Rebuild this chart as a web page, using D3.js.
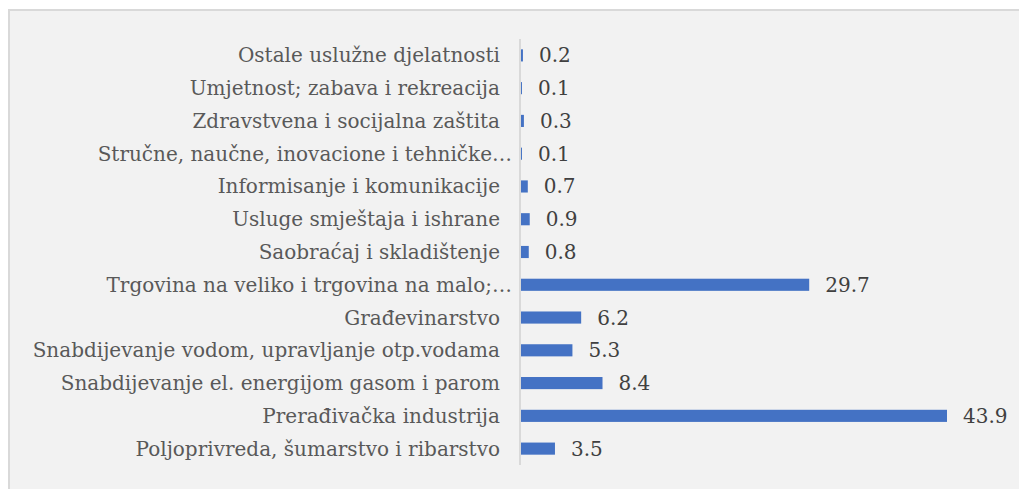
<!DOCTYPE html>
<html>
<head>
  <meta charset="utf-8">
  <script src="https://d3js.org/d3.v7.min.js"></script>
  <style>
    body {
      margin: 0;
      background: #fff;
      font-family: "DejaVu Serif", serif;
    }
  </style>
</head>
<body>
  <script>
    // categories top to bottom, as in the source
    var categories = [
      "Ostale uslužne djelatnosti",
      "Umjetnost; zabava i rekreacija",
      "Zdravstvena i socijalna zaštita",
      "Stručne, naučne, inovacione i tehničke…",
      "Informisanje i komunikacije",
      "Usluge smještaja i ishrane",
      "Saobraćaj i skladištenje",
      "Trgovina na veliko i trgovina na malo;…",
      "Građevinarstvo",
      "Snabdijevanje vodom, upravljanje otp.vodama",
      "Snabdijevanje el. energijom gasom i parom",
      "Prerađivačka industrija",
      "Poljoprivreda, šumarstvo i ribarstvo"
    ];
    var values = [0.2, 0.1, 0.3, 0.1, 0.7, 0.9, 0.8, 29.7, 6.2, 5.3, 8.4, 43.9, 3.5];

    var w = 1019, h = 489;
    var data = categories.map(function(c, i) { return {name: c, value: values[i]}; });

    var svg = d3.select("body").append("svg")
      .attr("width", w)
      .attr("height", h);

    // chart area background + border
    svg.append("rect")
      .attr("x", 9).attr("y", 10)
      .attr("width", w + 10).attr("height", h + 10)
      .attr("fill", "#f2f2f2")
      .attr("stroke", "#d9d9d9")
      .attr("stroke-width", 2);

    var x = d3.scaleLinear().domain([0, 43.9]).range([521, 947]);
    var y = d3.scaleBand().domain(categories).range([39, 465]).paddingInner(0.63).paddingOuter(0.315);

    // bars
    svg.selectAll("rect.bar")
      .data(data)
      .enter().append("rect")
      .attr("class", "bar")
      .attr("x", x(0))
      .attr("y", function(d) { return y(d.name); })
      .attr("width", function(d) { return x(d.value) - x(0); })
      .attr("height", y.bandwidth())
      .attr("fill", "#4472c4");

    // vertical axis line
    svg.append("line")
      .attr("x1", 520).attr("x2", 520)
      .attr("y1", y.range()[0]).attr("y2", y.range()[1])
      .attr("stroke", "#d9d9d9")
      .attr("stroke-width", 2);

    // category labels (truncated ones stick out a bit, like the original)
    svg.selectAll("text.cat")
      .data(data)
      .enter().append("text")
      .attr("class", "cat")
      .attr("x", function(d) { return d.name.slice(-1) == "…" ? 512 : 500; })
      .attr("y", function(d) { return y(d.name) + y.bandwidth() / 2; })
      .attr("dy", "0.35em")
      .attr("text-anchor", "end")
      .attr("font-size", 20)
      .attr("fill", "#595959")
      .text(function(d) { return d.name; });

    // value labels
    svg.selectAll("text.val")
      .data(data)
      .enter().append("text")
      .attr("class", "val")
      .attr("x", function(d) { return x(d.value) + 16; })
      .attr("y", function(d) { return y(d.name) + y.bandwidth() / 2; })
      .attr("dy", "0.35em")
      .attr("font-size", 20)
      .attr("fill", "#404040")
      .text(function(d) { return d.value; });
  </script>
</body>
</html>
